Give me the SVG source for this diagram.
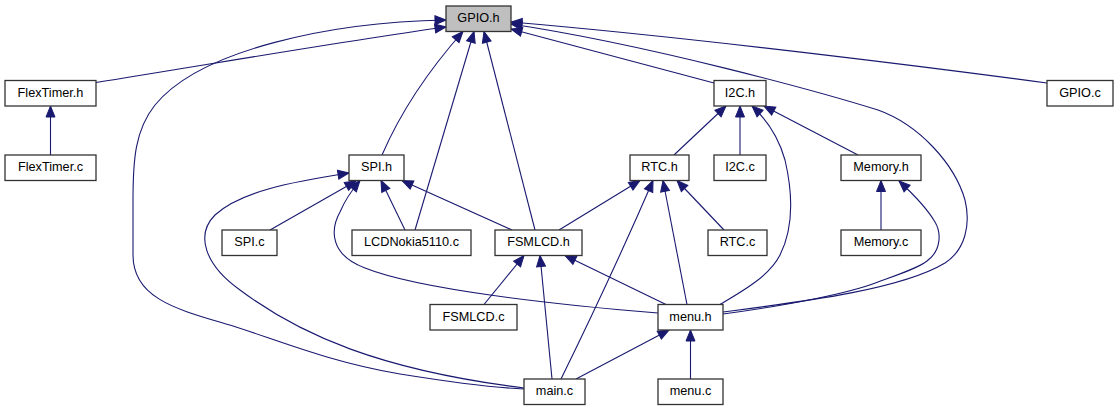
<svg xmlns="http://www.w3.org/2000/svg" width="1118" height="411" viewBox="0 0 1118 411">
<style>
.n rect{fill:#fff;stroke:#333;stroke-width:1.3}
.n.root rect{fill:#bfbfbf}
.n text{font-family:"Liberation Sans",Arial,sans-serif;font-size:12.7px;fill:#000;text-anchor:middle}
#edges path{fill:none;stroke:#191970;stroke-width:1.1;marker-end:url(#arr)}
</style>
<defs>
<marker id="arr" markerUnits="userSpaceOnUse" markerWidth="14" markerHeight="12" refX="11" refY="4.5" orient="auto" overflow="visible">
<path d="M0,0 L11,4.5 L0,9 z" fill="#191970" stroke="#191970" stroke-width="1"/>
</marker>
</defs>
<rect width="1118" height="411" fill="#fff"/>
<g id="edges">
<path d="M96,82.5 C200,66 350,40 446,27"/>
<path d="M524,389 C500,388 450,382 400,374 C330,362 280,341 233,326 C180,310 133,300 133,255 L133,200 C133,160 135,130 155,105 C200,50 330,22 446,20"/>
<path d="M382,155 C395,125 420,80 463,31.5"/>
<path d="M415,230 L474,31.5"/>
<path d="M535,230 L484,31.5"/>
<path d="M714,83 L511,29"/>
<path d="M723,312 C800,302 900,290 945,263 C965,250 971,225 965,200 C955,165 920,125 878,110 C820,92 650,45 511,24"/>
<path d="M1047,83 C950,70 700,38 511,22"/>
<path d="M50.5,155 L50.5,106"/>
<path d="M674,155 L726,106"/>
<path d="M740,155 L740,106"/>
<path d="M720,304.5 C745,290 770,275 780,255 C795,225 792,190 785,160 C778,135 765,118 752,106"/>
<path d="M858,155 L764,106"/>
<path d="M559,230 L640,180.5"/>
<path d="M561,379 C590,320 625,245 653,180.5"/>
<path d="M687,304.5 L663,180.5"/>
<path d="M724,230 L677,180.5"/>
<path d="M881,230 L881,180.5"/>
<path d="M723,314 C790,305 850,293 878,282 C900,274 918,268 927,261 C942,250 941,232 935,222 C928,210 912,193 899,181"/>
<path d="M524,388 C380,370 300,335 240,290 C205,265 195,235 215,215 C240,192 290,182 349,173"/>
<path d="M270,230 L356,181"/>
<path d="M658,313 C560,305 420,290 365,268 C330,255 330,230 340,212 C345,200 352,190 360,180.5"/>
<path d="M405,230 L381,180.5"/>
<path d="M512,230 L402,180.5"/>
<path d="M484,304.5 L524,255.5"/>
<path d="M552,379 L540,255.5"/>
<path d="M666,304.5 L565,255.5"/>
<path d="M576,379 L669,330"/>
<path d="M690.5,379 L690.5,330"/>
</g>
<g id="GPIO_h" class="n root"><rect x="446" y="6" width="65" height="25.5"/><text x="478.5" y="22">GPIO.h</text></g>
<g id="FlexTimer_h" class="n"><rect x="5" y="80.5" width="91" height="25.5"/><text x="50.5" y="96.5">FlexTimer.h</text></g>
<g id="I2C_h" class="n"><rect x="714" y="80.5" width="52" height="25.5"/><text x="740" y="96.5">I2C.h</text></g>
<g id="GPIO_c" class="n"><rect x="1047" y="80.5" width="66" height="25.5"/><text x="1080" y="96.5">GPIO.c</text></g>
<g id="FlexTimer_c" class="n"><rect x="5" y="155" width="91" height="25.5"/><text x="50.5" y="171">FlexTimer.c</text></g>
<g id="SPI_h" class="n"><rect x="349" y="155" width="55" height="25.5"/><text x="376.5" y="171">SPI.h</text></g>
<g id="RTC_h" class="n"><rect x="630" y="155" width="59" height="25.5"/><text x="659.5" y="171">RTC.h</text></g>
<g id="I2C_c" class="n"><rect x="714" y="155" width="52" height="25.5"/><text x="740" y="171">I2C.c</text></g>
<g id="Memory_h" class="n"><rect x="841" y="155" width="80" height="25.5"/><text x="881" y="171">Memory.h</text></g>
<g id="SPI_c" class="n"><rect x="222" y="230" width="55" height="25.5"/><text x="249.5" y="246">SPI.c</text></g>
<g id="LCDNokia5110_c" class="n"><rect x="352" y="230" width="119" height="25.5"/><text x="411.5" y="246">LCDNokia5110.c</text></g>
<g id="FSMLCD_h" class="n"><rect x="495" y="230" width="87" height="25.5"/><text x="538.5" y="246">FSMLCD.h</text></g>
<g id="RTC_c" class="n"><rect x="708" y="230" width="59" height="25.5"/><text x="737.5" y="246">RTC.c</text></g>
<g id="Memory_c" class="n"><rect x="841" y="230" width="80" height="25.5"/><text x="881" y="246">Memory.c</text></g>
<g id="FSMLCD_c" class="n"><rect x="430" y="304.5" width="87" height="25.5"/><text x="473.5" y="320.5">FSMLCD.c</text></g>
<g id="menu_h" class="n"><rect x="658" y="304.5" width="65" height="25.5"/><text x="690.5" y="320.5">menu.h</text></g>
<g id="main_c" class="n"><rect x="524" y="379" width="61" height="25.5"/><text x="554.5" y="395">main.c</text></g>
<g id="menu_c" class="n"><rect x="658" y="379" width="65" height="25.5"/><text x="690.5" y="395">menu.c</text></g>
</svg>
